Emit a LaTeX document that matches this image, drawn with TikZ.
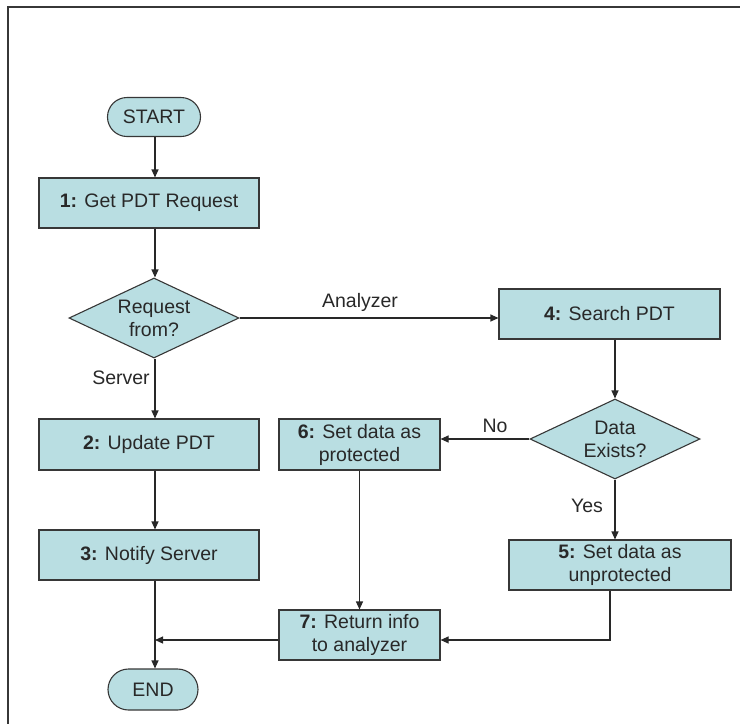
\documentclass[tikz,border=0pt]{standalone}
\usepackage{fontspec}
\setmainfont{Liberation Sans}
\usetikzlibrary{arrows.meta,shapes.geometric,shapes.misc}
\definecolor{boxfill}{RGB}{185,222,226}
\definecolor{ink}{RGB}{40,40,40}
\definecolor{edge}{RGB}{55,55,55}
\begin{document}
\begin{tikzpicture}[x=1pt,y=-1pt,
  every node/.style={font=\fontsize{19.5}{23}\selectfont, text=ink},
  procbox/.style={draw=edge, line width=1.1pt, fill=boxfill, rectangle,
    inner sep=0pt, align=center},
  termbox/.style={draw=edge, line width=1.1pt, fill=boxfill, rounded rectangle,
    inner sep=0pt, minimum height=39pt},
  decbox/.style={draw=edge, line width=1.1pt, fill=boxfill, diamond, aspect=2.125,
    inner sep=0pt, minimum width=170pt, minimum height=80pt, align=center},
  flow/.style={draw=ink, line width=1.1pt, -{Triangle[length=8pt,width=7pt]}},
  tag/.style={inner sep=0pt}
]
\useasboundingbox (0,0) rectangle (740,724);
% outer frame
\draw[edge, line width=1.8pt] (740,7) -- (8,7) -- (8,724);

% left column
\node[termbox, minimum width=93pt] (start) at (154,117) {START};
\node[procbox, minimum width=220pt, minimum height=50pt] (b1) at (149,203) {\textbf{1:} Get PDT Request};
\node[decbox] (d1) at (154,318) {Request\\from?};
\node[procbox, minimum width=220pt, minimum height=51pt] (b2) at (149,444.5) {\textbf{2:} Update PDT};
\node[procbox, minimum width=220pt, minimum height=50pt] (b3) at (149,555) {\textbf{3:} Notify Server};
\node[termbox, minimum width=90pt, minimum height=41pt] (end) at (153,689.5) {END};

% middle column
\node[procbox, minimum width=161pt, minimum height=51pt] (b6) at (359.5,444.5) {\textbf{6:} Set data as\\protected};
\node[procbox, minimum width=161pt, minimum height=50pt] (b7) at (359.5,635) {\textbf{7:} Return info\\to analyzer};

% right column
\node[procbox, minimum width=221pt, minimum height=50pt] (b4) at (609.5,314) {\textbf{4:} Search PDT};
\node[decbox] (d2) at (615,439) {Data\\Exists?};
\node[procbox, minimum width=222pt, minimum height=50pt] (b5) at (620,565) {\textbf{5:} Set data as\\unprotected};

% branch labels
\node[tag] (lanalyzer) at (360,302) {Analyzer};
\node[tag] (lserver) at (121,378) {Server};
\node[tag] (lno) at (495,426) {No};
\node[tag] (lyes) at (587,506) {Yes};

% junction points
\coordinate (trunk) at (155,0);
\coordinate (b5down) at (610,640);
\coordinate (merge) at (trunk |- b5down);

% connectors
\draw[flow] (start.south -| trunk) -- (b1.north -| trunk);
\draw[flow] (b1.south -| trunk) -- (d1.north -| trunk);
\draw[flow] (d1.south -| trunk) -- (b2.north -| trunk);
\draw[flow] (b2.south -| trunk) -- (b3.north -| trunk);
\draw[flow] (b3.south -| trunk) -- (end.north -| trunk);
\draw[flow] (d1.east) -- (d1.east -| b4.west);
\draw[flow] (b4.south -| d2) -- (d2.north);
\draw[flow] (d2.west) -- (d2.west -| b6.east);
\draw[flow] (d2.south) -- (b5.north -| d2);
\draw[flow] (b6.south) -- (b7.north);
\draw[flow] (b5.south -| b5down) -- (b5down) -- (b5down -| b7.east);
\draw[flow] (b5down -| b7.west) -- (merge);
\end{tikzpicture}
\end{document}
